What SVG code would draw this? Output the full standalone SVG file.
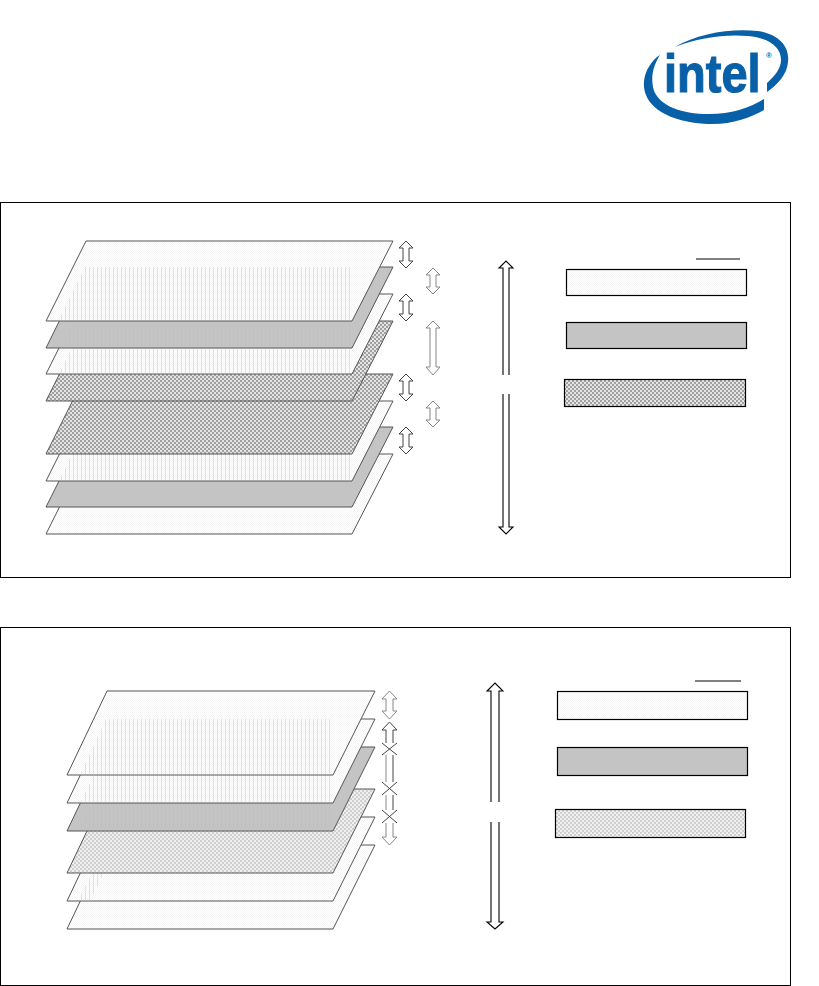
<svg xmlns="http://www.w3.org/2000/svg" width="819" height="986" viewBox="0 0 819 986">
<style>
.frame{fill:#fff;stroke:#000;stroke-width:1}
.layer{stroke:#555;stroke-width:1}
.lt{fill:url(#light)}.gr{fill:#c4c4c4}.ck{fill:url(#check)}.ck2{fill:url(#check2)}
.leg{stroke:#000;stroke-width:1.2}
.ar{fill:#fff;stroke:#444;stroke-width:1}
.ar2{fill:#fff;stroke:#888;stroke-width:1}
.ln{fill:none;stroke:#444;stroke-width:1}
.ln2{fill:none;stroke:#888;stroke-width:1}
.br{fill:#fff;stroke:#000;stroke-width:1.1}
.vl{fill:url(#vlines)}
.logo{font-family:"Liberation Sans",Arial,sans-serif;font-weight:700;fill:#0860a8}
</style>
<defs>
<pattern id="light" width="2" height="2" patternUnits="userSpaceOnUse"><rect width="2" height="2" fill="#fff"/><rect width="1" height="1" fill="#f6f6f6"/><rect x="1" y="1" width="1" height="1" fill="#f6f6f6"/></pattern>
<pattern id="check" width="4" height="4" patternUnits="userSpaceOnUse"><rect width="4" height="4" fill="#e4e4e4"/><rect width="2" height="2" fill="#a0a0a0"/><rect x="2" y="2" width="2" height="2" fill="#a0a0a0"/></pattern>
<pattern id="check2" width="4" height="4" patternUnits="userSpaceOnUse"><rect width="4" height="4" fill="#f0f0f0"/><rect width="2" height="2" fill="#cfcfcf"/><rect x="2" y="2" width="2" height="2" fill="#cfcfcf"/></pattern>
<pattern id="vlines" width="4" height="4" patternUnits="userSpaceOnUse" x="1"><rect width="1" height="4" fill="#bbb" fill-opacity=".4"/></pattern>
</defs>
<rect width="819" height="986" fill="#fff"/>
<g id="logo">
<path fill="#0860a8" d="M675 47C698 33 732 28 758 31C778 34 790 46 788 62C787 75 777 85 767 92L767 83C775 76 781 68 781 60C781 46 768 38 748 36C724 34 698 38 675 47ZM657 57C648 65 643 76 644 87C646 107 668 122 708 124C731 125 750 118 764 110L764 99C748 109 728 115 704 114C676 113 656 103 653 87C651 76 653 66 660 55Z"/>
<text class="logo" transform="translate(664 92) scale(1 1.14)" font-size="47" stroke="#0860a8" stroke-width="1">intel</text>
<text class="logo" x="766" y="58" font-size="8">®</text>
</g>
<g id="frame-top"><rect class="frame" x="0.5" y="202.500" width="790" height="375"/></g>
<g id="frame-bottom"><rect class="frame" x="0.5" y="627.500" width="790" height="358"/></g>
<g id="stack-top">
<polygon id="t8" class="layer lt" points="86,454 393,454 352,534 46,534"/>
<polygon id="t7" class="layer gr" points="86,427 393,427 352,507 46,507"/>
<polygon id="t6" class="layer lt" points="86,401 393,401 352,481 46,481"/>
<polygon class="vl" points="72,454 352,454 352,481 59,481"/>
<polygon id="t5" class="layer ck" points="86,374 393,374 352,454 46,454"/>
<polygon id="t4" class="layer ck" points="86,321 393,321 352,401 46,401"/>
<polygon id="t3" class="layer lt" points="86,294 393,294 352,374 46,374"/>
<polygon class="vl" points="85,321 352,321 352,374 59,374"/>
<polygon id="t2" class="layer gr" points="86,267 393,267 352,348 46,348"/>
<polygon class="vl" points="74,321 352,321 352,348 60,348"/>
<polygon id="t1" class="layer lt" points="86,241 393,241 352,321 46,321"/>
<polygon class="vl" points="85,267 352,267 352,321 58,321"/>
</g>
<g id="stack-bottom">
<polygon id="b6" class="layer lt" points="107,845 375,845 333,929 67,929"/>
<polygon id="b5" class="layer lt" points="107,817 375,817 333,901 67,901"/>
<polygon class="vl" points="92,873 104,873 90,901 78,901"/>
<polygon id="b4" class="layer ck2" points="107,789 375,789 333,873 67,873"/>
<polygon id="b3" class="layer gr" points="107,747 375,747 333,831 67,831"/>
<polygon class="vl" points="92,803 333,803 333,831 78,831"/>
<polygon id="b2" class="layer lt" points="107,719 375,719 333,803 67,803"/>
<polygon class="vl" points="94,775 333,775 333,803 80,803"/>
<polygon id="b1" class="layer lt" points="107,691 375,691 333,775 67,775"/>
<polygon class="vl" points="106,719 333,719 333,775 80,775"/>
</g>
<g id="connectors">
<path class="ar" d="M406 241l7 7h-4v13h4l-7 7l-7-7h4v-13h-4z"/>
<path class="ar" d="M406 294l7 7h-4v13h4l-7 7l-7-7h4v-13h-4z"/>
<path class="ar" d="M406 374l7 7h-4v13h4l-7 7l-7-7h4v-13h-4z"/>
<path class="ar" d="M406 427l7 7h-4v13h4l-7 7l-7-7h4v-13h-4z"/>
<path class="ar2" d="M433 268l7 7h-4v12h4l-7 7l-7-7h4v-12h-4z"/>
<path class="ar2" d="M433 321l7 7h-4v39h4l-7 8l-7-8h4v-39h-4z"/>
<path class="ar2" d="M433 401l7 7h-4v12h4l-7 7l-7-7h4v-12h-4z"/>
<path class="br" d="M503 375V268h-4l7-7l7 7h-4V375"/>
<path class="br" d="M503 394V527h-4l7 7l7-7h-4V394"/>
<path class="ar2" d="M389.500 691l7.500 8h-4v12h4l-7.500 8l-7.500-8h4v-12h-4z"/>
<path class="ln" d="M386 743V730h-4l7.500-8l7.500 8h-4V743"/>
<path class="ln" d="M382 743L397 755M397 743L382 755"/>
<path class="ln2" d="M386 755V782"/>
<path class="ln" d="M393 755V782"/>
<path class="ln" d="M382 782L397 795M397 782L382 795"/>
<path class="ln2" d="M386 795V810"/>
<path class="ln" d="M393 795V810"/>
<path class="ln" d="M382 810L397 823M397 810L382 823"/>
<path class="ln2" d="M386 823V837h-4l7.500 8l7.500-8h-4V823"/>
<path class="br" d="M491 802V691h-4l8-8l8 8h-4V802"/>
<path class="br" d="M491 822V922h-4l8 7l8-7h-4V822"/>
</g>
<g id="legend-top">
<rect class="leg lt" x="566.500" y="269.500" width="180" height="26"/>
<rect class="leg gr" x="566.500" y="322.500" width="180" height="26"/>
<rect class="leg ck" x="564.500" y="379.500" width="181" height="27"/>
<line x1="696" y1="259" x2="740" y2="259" stroke="#000" stroke-width="1"/>
</g>
<g id="legend-bottom">
<rect class="leg lt" x="557.500" y="691.500" width="190" height="28"/>
<rect class="leg gr" x="557.500" y="747.500" width="190" height="28"/>
<rect class="leg ck2" x="555.500" y="809.500" width="190" height="28"/>
<line x1="695" y1="681" x2="741" y2="681" stroke="#000" stroke-width="1"/>
</g>
</svg>
